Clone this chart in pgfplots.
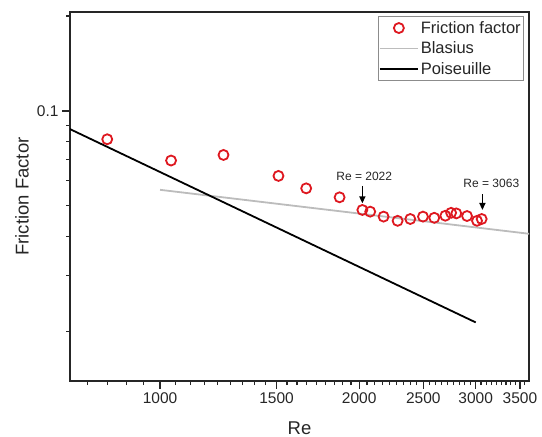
\documentclass[border=0pt]{standalone}
\usepackage{pgfplots}
\pgfplotsset{compat=1.18}
\usetikzlibrary{arrows.meta}
\usepackage{fontspec}
\setmainfont{Liberation Sans}
\definecolor{ffred}{RGB}{222,24,32}
\definecolor{blgrey}{RGB}{188,188,188}

\begin{document}
\begin{tikzpicture}
\useasboundingbox (-70pt,-56pt) rectangle (472pt,381pt);
\begin{axis}[
  scale only axis, width=459pt, height=369pt,
  xmode=log, ymode=log,
  xmin=731, xmax=3612, ymin=0.0139, ymax=0.206,
  xtick={1000,1500,2000,2500,3000,3500},
  xticklabels={1000,1500,2000,2500,3000,3500},
  ytick={0.1}, yticklabels={0.1},
  minor xtick={777.8,833.3,888.9,944.4,
    1055.6,1111.1,1166.7,1222.2,1277.8,1333.3,1388.9,1444.4,
    1555.6,1611.1,1666.7,1722.2,1777.8,1833.3,1888.9,1944.4,
    2055.6,2111.1,2166.7,2222.2,2277.8,2333.3,2388.9,2444.4,
    2555.6,2611.1,2666.7,2722.2,2777.8,2833.3,2888.9,2944.4,
    3055.6,3111.1,3166.7,3222.2,3277.8,3333.3,3388.9,3444.4,
    3555.6},
  minor ytick={0.02,0.03,0.04,0.05,0.06,0.07,0.08,0.09,0.2},
  tick align=outside, xtick pos=bottom, ytick pos=left,
  major tick length=8pt, minor tick length=4pt,
  every tick/.style={black!85, line width=1.2pt},
  axis line style={black!85, line width=1.5pt},
  ticklabel style={font=\fontsize{15.5}{18}\selectfont, text=black!85},
  xlabel={Re}, ylabel={Friction Factor},
  label style={font=\fontsize{18.5}{21}\selectfont, text=black!85},
  xlabel style={at={(axis description cs:0.5,0)}, anchor=center, yshift=-47pt},
  ylabel style={at={(axis description cs:-0.1046,0.5)}, anchor=center},
  legend style={at={(axis description cs:1,1)}, anchor=north east,
    xshift=-5pt, yshift=-4pt, draw=black!45, line width=0.6pt,
    font=\fontsize{16.5}{19}\selectfont, text=black!85,
    inner xsep=1pt, inner ysep=3pt, row sep=3pt},
  legend cell align=left,
  legend image code/.code={%
    \draw[mark repeat=2,mark phase=2,#1] plot coordinates {(0pt,0pt) (19pt,0pt) (38pt,0pt)};},
]
\addplot[only marks, mark=o, mark size=5pt, ffred, mark options={line width=1.8pt, draw=ffred}]
  coordinates {
  (832,0.0813)(1039,0.0696)(1247,0.0725)(1510,0.0622)(1663,0.0568)
  (1868,0.0532)(2022,0.0485)(2078,0.0479)(2177,0.0462)(2286,0.0448)
  (2389,0.0454)(2497,0.0462)(2597,0.0458)(2699,0.0465)(2754,0.0475)
  (2804,0.0473)(2911,0.0464)(3014,0.0448)(3063,0.0454)};
\addlegendentry{Friction factor}
\addplot[blgrey, line width=1.8pt] coordinates {(1000,0.05619)(3700,0.04051)};
\addlegendentry{Blasius}
\addplot[black, line width=1.8pt] coordinates {(700,0.09143)(3000,0.02133)};
\addlegendentry{Poiseuille}
\node[font=\fontsize{12}{14}\selectfont, text=black!85] at (axis cs:2035,0.0619) {Re = 2022};
\draw[black, line width=1.5pt, -{Triangle[length=7pt,width=6pt]}] (axis cs:2022,0.0578) -- (axis cs:2022,0.0509);
\node[font=\fontsize{12}{14}\selectfont, text=black!85] at (axis cs:3168,0.0588) {Re = 3063};
\draw[black, line width=1.5pt, -{Triangle[length=7pt,width=6pt]}] (axis cs:3071,0.0545) -- (axis cs:3071,0.0485);
\end{axis}
\end{tikzpicture}
\end{document}
